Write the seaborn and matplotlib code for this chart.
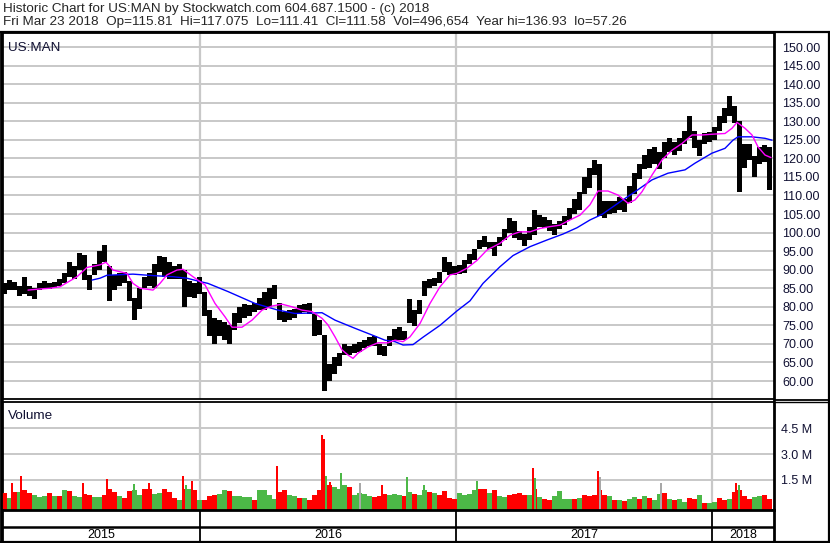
import numpy as np
import pandas as pd
import matplotlib
matplotlib.use("Agg")
import matplotlib.pyplot as plt
import seaborn as sns
from matplotlib.lines import Line2D

# ---------------- data ----------------
# weekly price ranges (5 trading days per week, from mid-March 2015)
lows = [83.5,84.5,84.5,83,83.5,83,82,84.5,84.8,84.8,
        85,85.5,86.5,88,87.5,90,87.2,84.5,88.5,90,
        92,81.5,84.5,85.5,86.5,81.5,76.4,79.5,85,85.5,
        85,89.5,88,87.5,87.5,87.5,80,82.7,82.5,83.5,
        77.5,72,70,72,71,70,73.7,75.5,77,77.5,
        78.5,79,79,80,82,76.5,76,76.5,77,78,
        78.5,78,72,72.5,57.3,60,62,64,67,67,
        67.5,67.8,69,69.5,69.5,67,66.7,69.5,71,71,
        71,75.5,74.8,78,83,85,85.5,86.5,89.5,88.5,
        88.6,88.8,89,91.4,92.5,95.5,96,95.5,93.8,96.3,
        98,100,98.5,98,96.5,98,99.3,101.5,101.2,100.4,
        99.3,101,102,103.5,105,106,110.5,112,115.5,104.5,
        104,105,105.2,106,105.5,108,110.5,114.5,117,117.5,
        118.5,117,120,121.7,121,122,124,125.5,122.8,120.5,
        124,124.5,125,127.5,129.5,131.5,129.5,111,117.5,119.5,
        115,118.5,119,111.4]
highs = [86.5,87.2,86.8,85.5,88,85.5,85,86.5,87,86.5,
         86.7,87.5,89,92,91,94.5,94,88.5,91.5,95,
         96.6,91,88.5,89,89.5,87,82.5,85,88,89,
         91.5,93.8,93.5,92,91,91.5,90,87,86.5,88,
         84,79,77,76.5,76,75,78.2,80,80.8,80.5,
         81,82.5,84,85,85.8,81,78.5,79,79.5,80.5,
         80.7,81,78,76.5,72.4,64.5,66.5,67.5,70,69.5,
         70,70.5,71,71.8,72,70,69.5,72,74,74.5,
         73.5,82,79,81.8,87,87.5,87.8,89.5,93.5,92,
         91,91.3,92.5,94.3,95.5,98,99,97.5,97.5,98.8,
         101,104,103,100.5,99.5,101.5,106,104.6,104.2,103.4,
         102.2,103,104.5,106.5,109,111,115,117.5,119.5,118.5,
         108.5,108.5,108.5,109.5,109,112.5,116,118.5,121,122.5,
         123,121.8,124.5,125.5,124.5,125.5,127.5,131.5,127.5,125,
         126.8,127,128.5,131.5,133.5,136.9,134,130,124,124,
         120.5,123,123.5,123]

# moving averages: (trading day, value)
ma_short_days = [26,38,48,58,75,85,98,104,111,125,131,138,151,158,165,175,181,191,198,
                 203,213,223,230,240,250,260,270,280,290,300,310,320,326,333,340,346,351,
                 356,366,376,386,393,401,408,418,428,438,448,455,465,475,485,498,508,518,
                 528,538,548,558,568,578,588,596,606,616,626,633,640,650,660,670,680,690,
                 700,710,723,730,735,743,750,756,763,769]
ma_short = [84.5,84.8,85.0,85.4,88.1,90.6,91.3,92.0,89.9,89.0,86.3,85.0,84.5,86.3,88.6,89.9,
            90.1,88.1,86.8,85.9,80.9,77.3,74.5,74.5,76.4,79.1,80.2,80.7,80.0,79.1,78.7,76.9,
            75.1,71.9,68.4,67.0,66.1,67.5,69.2,70.3,70.3,71.0,70.6,71.9,75.5,80.9,85.4,88.6,
            89.0,90.4,92.5,95.3,97.1,99.3,100.2,100.2,101.1,101.6,102.0,103.4,104.7,107.5,
            111.2,111.2,110.1,107.9,108.8,111.0,115.5,119.6,122.2,124.0,126.3,126.3,126.5,
            126.7,128.1,129.7,128.1,126.3,123.1,120.9,120.2]
ma_long_days = [90,98,105,131,151,171,185,198,206,226,253,276,293,320,333,353,370,383,393,
                401,411,421,438,455,468,481,498,511,528,545,561,575,588,600,616,633,650,666,
                683,693,710,723,731,736,750,763,770]
ma_long = [87.2,87.7,88.5,88.8,88.4,88.1,87.7,86.8,86.3,84.1,80.9,79.1,78.2,78.4,76.4,74.2,
           72.4,71.0,70.6,69.7,69.8,71.8,75.0,78.9,81.6,86.3,90.8,93.8,96.2,98.0,99.6,101.3,
           103.4,104.9,107.9,111.0,114.2,116.0,116.9,118.7,121.4,122.7,124.9,125.8,125.8,
           125.4,124.9]

# weekly volume (millions) and up/down colour
vol_week = [0.75,0.45,0.8,0.8,0.9,0.75,0.6,0.5,0.55,0.75,
            0.55,0.55,0.9,0.85,0.55,0.5,0.7,0.6,0.5,0.5,
            0.65,1.0,0.8,0.55,0.45,0.85,0.9,0.65,0.95,1.0,
            0.7,0.75,1.0,0.8,0.45,0.35,1.0,1.0,0.9,0.35,
            0.35,0.55,0.65,0.7,0.9,0.85,0.55,0.55,0.5,0.5,
            0.35,0.9,0.9,0.65,0.4,0.8,0.9,0.65,0.55,0.45,
            0.45,0.35,0.6,0.9,1.2,1.2,1.1,1.0,1.2,1.1,
            0.65,0.75,0.7,0.55,0.5,0.55,0.7,0.65,0.7,0.6,
            0.55,0.8,0.7,0.6,0.9,0.8,0.75,0.6,0.85,0.45,
            0.4,0.75,0.65,0.7,0.9,1.0,1.0,0.75,0.9,0.55,
            0.5,0.65,0.7,0.75,0.65,0.65,1.0,0.5,0.4,0.35,
            0.55,0.85,0.4,0.4,0.4,0.45,0.65,0.55,0.65,0.9,
            0.65,0.55,0.35,0.35,0.3,0.4,0.5,0.4,0.55,0.45,
            0.35,0.7,0.75,0.4,0.35,0.4,0.2,0.45,0.4,0.6,
            0.15,0.15,0.2,0.45,0.35,0.4,0.8,0.9,0.55,0.4,
            0.5,0.55,0.6,0.4]
vol_dir = ("rgrgrrgggr" "grgrggrrgg" "rrrgrrggrr" "ggrrrgrgrg" "rrrggrgggg"
           "rggggrrggr" "grrrrrgggr" "ggggrrrggg" "rgrggrgrrr" "rggggrrgrg"
           "grrrrgrgrr" "ggggrgrrrr" "rgrgrggrgr" "ggrgrggrrg" "rggrrgrrrr" "ggr" "r")
# single heavy-volume days (trading day, millions, colour)
spike_days = [10,19,81,105,132,147,181,184,190,275,320,322,324,328,339,358,380,405,422,
              475,531,533,596,598,659,734,737]
spike_vols = [1.35,1.75,1.3,1.55,1.25,1.35,1.75,1.2,1.45,2.3,4.1,3.9,1.75,1.4,1.9,1.3,1.2,
              1.7,1.2,1.45,2.2,1.6,2.0,1.7,1.3,1.35,1.2]
spike_dir = "rrrrgrrgrrrrgrgxrgggrgrxxrg"

year_labels = ["2015", "2016", "2017", "2018"]
year_starts = [198, 454, 710]       # trading-day index of first day of each new year

price_ticks = list(range(60, 151, 5))
vol_ticks = [1.5, 3.0, 4.5]

header1 = "Historic Chart for US:MAN by Stockwatch.com 604.687.1500 - (c) 2018"
header2 = ("Fri Mar 23 2018  Op=115.81  Hi=117.075  Lo=111.41  Cl=111.58  "
           "Vol=496,654  Year hi=136.93  lo=57.26")

# ---------------- figure ----------------
sns.set_style("white")
plt.rcParams['font.family'] = ['Liberation Sans', 'DejaVu Sans']
FS = 9
HFS = 9.7

W, H = 830, 543
fig = plt.figure(figsize=(W / 100, H / 100), dpi=100)
fig.patch.set_facecolor("white")


def rect(x0, y0, x1, y1):
    return [x0 / W, 1 - y1 / H, (x1 - x0) / W, (y1 - y0) / H]


ax_p = fig.add_axes(rect(2, 33, 774, 399))
ax_v = fig.add_axes(rect(2, 402, 774, 510), sharex=ax_p)
ax_d = fig.add_axes(rect(2, 510, 774, 542), sharex=ax_p)

GRID = "#c8c8c8"
colmap = {"r": "#ff0000", "g": "#4cb847", "x": "#a8a8a8"}

# price bars
weeks = np.arange(len(lows))
wx = weeks * 5 + 2.5
lo = np.array(lows)
hi = np.array(highs)
ax_p.bar(wx, hi - lo, bottom=lo, width=5.0, color="black", linewidth=0, zorder=3)

df_s = pd.DataFrame({"day": ma_short_days, "ma": ma_short})
df_l = pd.DataFrame({"day": ma_long_days, "ma": ma_long})
sns.lineplot(data=df_l, x="day", y="ma", color="#0000ff", lw=1.0, ax=ax_p,
             estimator=None, sort=False, zorder=4)
sns.lineplot(data=df_s, x="day", y="ma", color="#ff00ff", lw=1.0, ax=ax_p,
             estimator=None, sort=False, zorder=5)

ax_p.set_xlim(0, 772)
ax_p.set_ylim(55.15, 153.78)
ax_p.set_yticks(price_ticks)
ax_p.set_yticklabels([f"{t:.2f}" for t in price_ticks], fontsize=FS)
ax_p.yaxis.tick_right()
ax_p.tick_params(axis="y", length=0, pad=6, labelcolor="#111133")
ax_p.tick_params(axis="x", length=0, labelbottom=False)
for t in price_ticks:
    ax_p.axhline(t, color=GRID, lw=1.4, zorder=0)
for d in year_starts:
    ax_p.axvline(d, color=GRID, lw=1.6, zorder=0)
ax_p.set_xlabel("")
ax_p.set_ylabel("")
ax_p.text(6, 0.975, "US:MAN", transform=ax_p.get_xaxis_transform(),
          fontsize=HFS, va="top", ha="left", color="#111133")

# volume
vcols = [colmap[c] for c in vol_dir]
ax_v.bar(wx, np.array(vol_week) + 0.3, bottom=-0.3, width=5.0, color=vcols,
         linewidth=0, zorder=3)
ax_v.bar(spike_days, np.array(spike_vols) + 0.3, bottom=-0.3, width=1.6,
         color=[colmap[c] for c in spike_dir], linewidth=0, zorder=3)
ax_v.set_ylim(-0.244, 6.03)
ax_v.set_yticks(vol_ticks)
ax_v.set_yticklabels([f"{t:.1f} M" for t in vol_ticks], fontsize=FS)
ax_v.yaxis.tick_right()
ax_v.tick_params(axis="y", length=0, pad=5, labelcolor="#111133")
ax_v.tick_params(axis="x", length=0, labelbottom=False)
for t in vol_ticks:
    ax_v.axhline(t, color=GRID, lw=1.4, zorder=0)
for d in year_starts:
    ax_v.axvline(d, color=GRID, lw=1.6, zorder=0)
ax_v.text(6, 0.93, "Volume", transform=ax_v.get_xaxis_transform(), fontsize=HFS,
          va="top", ha="left", color="#111133")

# date rows
ax_d.set_ylim(0, 32)
ax_d.set_yticks([])
ax_d.tick_params(axis="x", length=0, labelbottom=False)
ax_d.axhline(15.5, color="black", lw=1.8)
for d in year_starts:
    ax_d.axvline(d, color="black", lw=1.3)
bounds = [0] + year_starts + [772]
for i, lab in enumerate(year_labels):
    ax_d.text((bounds[i] + bounds[i + 1]) / 2, 7.2, lab, ha="center", va="center",
              fontsize=FS, color="black")

for ax in (ax_p, ax_v, ax_d):
    for s in ax.spines.values():
        s.set_color("black")
        s.set_linewidth(1.3)
    ax.spines["right"].set_linewidth(2.0)
    ax.spines["left"].set_linewidth(2.0)
ax_d.spines["top"].set_linewidth(2.0)


def fline(x0, y0, x1, y1, lw=1.5):
    fig.add_artist(Line2D([x0 / W, x1 / W], [1 - y0 / H, 1 - y1 / H],
                          transform=fig.transFigure, color="black", lw=lw))


fline(0, 32, 830, 32, 1.6)
fline(1, 32, 1, 543, 2.0)
fline(828.5, 32, 828.5, 543, 1.6)
fline(0, 542, 830, 542, 1.6)
fline(774, 399.5, 830, 399.5, 1.3)
fline(774, 401.5, 830, 401.5, 1.0)

fig.text(3 / W, 1 - 9 / H, header1, fontsize=HFS, va="center", ha="left")
fig.text(3 / W, 1 - 22.5 / H, header2, fontsize=HFS, va="center", ha="left")

fig.savefig("out.png", dpi=100, facecolor="white")
